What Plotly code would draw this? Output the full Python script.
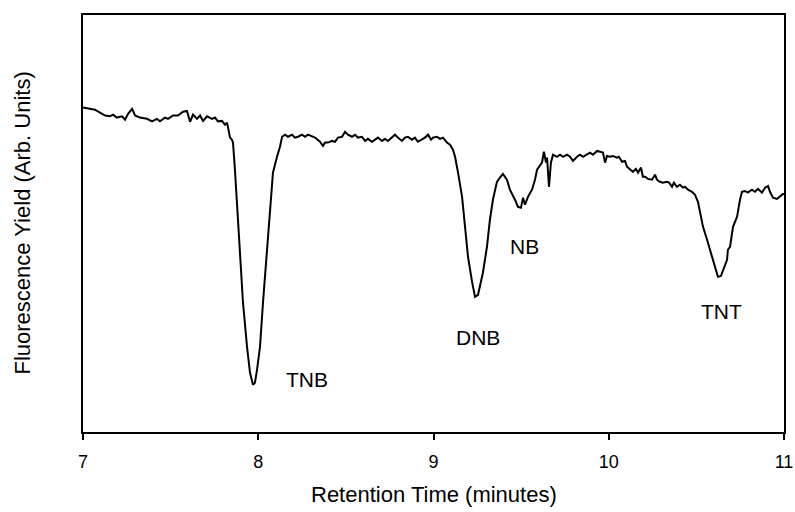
import plotly.graph_objects as go

# Retention time (minutes) and fluorescence signal (arbitrary units)
retention_time = [
    7.000, 7.040, 7.068, 7.097, 7.126, 7.154, 7.171, 7.194, 7.223, 7.240,
    7.257, 7.280, 7.297, 7.325, 7.365, 7.394, 7.422, 7.439, 7.468, 7.485,
    7.514, 7.542, 7.571, 7.593, 7.611, 7.628, 7.650, 7.668, 7.685, 7.708,
    7.736, 7.753, 7.770, 7.793, 7.810, 7.822, 7.827, 7.839, 7.850, 7.856,
    7.867, 7.879, 7.896, 7.913, 7.936, 7.953, 7.970, 7.981, 7.993, 8.010,
    8.027, 8.050, 8.067, 8.084, 8.107, 8.124, 8.136, 8.153, 8.170, 8.193,
    8.210, 8.227, 8.250, 8.267, 8.284, 8.307, 8.324, 8.352, 8.369, 8.381,
    8.398, 8.421, 8.438, 8.455, 8.478, 8.495, 8.512, 8.535, 8.552, 8.569,
    8.592, 8.609, 8.626, 8.649, 8.666, 8.683, 8.706, 8.723, 8.740, 8.763,
    8.780, 8.797, 8.820, 8.837, 8.854, 8.877, 8.894, 8.911, 8.934, 8.951,
    8.969, 8.986, 8.997, 9.020, 9.037, 9.054, 9.077, 9.094, 9.111, 9.123,
    9.140, 9.163, 9.180, 9.197, 9.220, 9.237, 9.254, 9.265, 9.282, 9.305,
    9.322, 9.339, 9.362, 9.379, 9.396, 9.419, 9.436, 9.465, 9.482, 9.499,
    9.511, 9.522, 9.539, 9.562, 9.579, 9.591, 9.608, 9.619, 9.630, 9.642,
    9.648, 9.659, 9.670, 9.682, 9.705, 9.722, 9.739, 9.762, 9.779, 9.796,
    9.819, 9.836, 9.853, 9.876, 9.893, 9.910, 9.933, 9.950, 9.967, 9.979,
    9.990, 10.007, 10.024, 10.047, 10.058, 10.076, 10.093, 10.104, 10.121, 10.138,
    10.155, 10.167, 10.184, 10.195, 10.207, 10.224, 10.247, 10.264, 10.275, 10.292,
    10.309, 10.332, 10.344, 10.361, 10.372, 10.389, 10.406, 10.424, 10.435, 10.452,
    10.475, 10.492, 10.509, 10.521, 10.538, 10.561, 10.578, 10.595, 10.612, 10.623,
    10.640, 10.652, 10.675, 10.680, 10.692, 10.709, 10.732, 10.749, 10.760, 10.777,
    10.794, 10.817, 10.834, 10.852, 10.874, 10.892, 10.909, 10.920, 10.937, 10.960,
    10.977, 10.994, 11.000,
]

fluorescence = [
    77.8, 77.5, 77.3, 76.6, 75.9, 75.7, 76.1, 75.4, 75.7, 74.9,
    76.3, 77.5, 75.9, 75.4, 75.1, 74.5, 75.1, 74.5, 75.4, 75.1,
    75.9, 75.9, 76.8, 77.0, 74.4, 76.1, 75.1, 75.9, 74.6, 75.7,
    75.1, 75.4, 74.5, 74.6, 73.7, 74.2, 73.0, 70.6, 70.1, 69.4,
    62.9, 55.0, 43.0, 31.0, 20.4, 14.2, 11.3, 11.8, 14.9, 20.4,
    31.0, 43.0, 54.0, 62.2, 66.0, 68.4, 70.8, 71.3, 70.8, 71.3,
    70.6, 70.8, 71.3, 70.8, 71.3, 70.8, 70.6, 69.6, 68.6, 69.4,
    69.4, 69.8, 69.6, 70.6, 70.8, 72.0, 71.3, 70.8, 71.3, 70.6,
    70.8, 69.8, 70.3, 69.6, 70.1, 70.6, 69.8, 70.3, 69.8, 70.6,
    71.3, 70.6, 69.8, 70.6, 70.8, 70.1, 70.6, 69.6, 70.1, 70.6,
    71.3, 70.1, 70.6, 70.8, 70.3, 70.6, 69.4, 68.9, 67.7, 66.0,
    62.2, 56.4, 49.2, 42.0, 36.0, 32.4, 32.9, 34.8, 38.2, 44.4,
    50.9, 55.7, 60.0, 61.0, 61.9, 60.5, 58.1, 55.7, 54.0, 53.8,
    56.2, 54.5, 56.4, 58.1, 60.5, 62.9, 63.8, 64.6, 67.2, 64.6,
    65.8, 58.8, 64.6, 66.5, 66.0, 66.5, 66.0, 66.5, 66.0, 65.0,
    66.0, 66.5, 66.0, 66.5, 67.0, 66.5, 67.4, 67.2, 67.0, 64.6,
    66.2, 66.0, 66.2, 65.8, 66.0, 64.8, 65.0, 63.6, 62.9, 62.4,
    63.1, 62.2, 63.4, 61.2, 61.2, 60.7, 60.5, 61.7, 60.5, 60.0,
    59.8, 60.0, 59.8, 58.8, 59.8, 58.8, 59.3, 58.6, 58.8, 58.1,
    57.6, 56.9, 55.2, 52.6, 49.2, 46.1, 43.7, 41.3, 38.4, 37.2,
    37.4, 38.9, 41.3, 43.7, 44.4, 49.2, 51.6, 55.7, 57.6, 57.8,
    57.4, 58.1, 57.6, 58.3, 57.4, 58.6, 59.0, 57.6, 56.2, 55.9,
    56.4, 57.1, 57.0,
]

# Peak labels
peak_names = ["TNB", "DNB", "NB", "TNT"]
peak_label_x = [8.278, 9.254, 9.522, 10.646]
peak_label_y = [12.7, 22.6, 44.4, 28.8]

x_ticks = [7, 8, 9, 10, 11]
x_tick_text = ["7", "8", "9", "10", "11"]

FONT = "Liberation Sans, Arial, sans-serif"

fig = go.Figure()
fig.add_trace(go.Scatter(
    x=retention_time, y=fluorescence, mode="lines",
    line=dict(color="black", width=2), hoverinfo="skip", showlegend=False,
))

for name, lx, ly in zip(peak_names, peak_label_x, peak_label_y):
    fig.add_annotation(x=lx, y=ly, text=name, showarrow=False,
                       xanchor="center", yanchor="middle",
                       font=dict(family=FONT, size=21, color="black"))

# Axis titles
fig.add_annotation(xref="paper", yref="paper", x=0.5, y=-0.151,
                   xanchor="center", yanchor="middle",
                   text="Retention Time (minutes)", showarrow=False,
                   font=dict(family=FONT, size=22, color="black"))
fig.add_annotation(xref="paper", yref="paper", x=-0.087, y=0.5,
                   xanchor="center", yanchor="middle",
                   text="Fluorescence Yield (Arb. Units)", showarrow=False,
                   textangle=-90,
                   font=dict(family=FONT, size=22, color="black"))

fig.update_layout(
    width=795, height=512,
    margin=dict(l=83, r=11, t=15, b=80, autoexpand=False),
    paper_bgcolor="white", plot_bgcolor="white",
    font=dict(family=FONT, color="black"),
)
fig.update_xaxes(
    range=[7, 11], tickvals=x_ticks, ticktext=x_tick_text,
    ticks="outside", ticklen=6, tickwidth=1.5, tickcolor="black",
    ticklabelstandoff=6,
    tickfont=dict(family=FONT, size=18, color="black"),
    showline=True, linecolor="black", linewidth=2, mirror=True,
    showgrid=False, zeroline=False, automargin=False,
)
fig.update_yaxes(
    range=[0, 100], showticklabels=False, ticks="",
    showline=True, linecolor="black", linewidth=2, mirror=True,
    showgrid=False, zeroline=False, automargin=False,
)

fig.write_html("out.html")
